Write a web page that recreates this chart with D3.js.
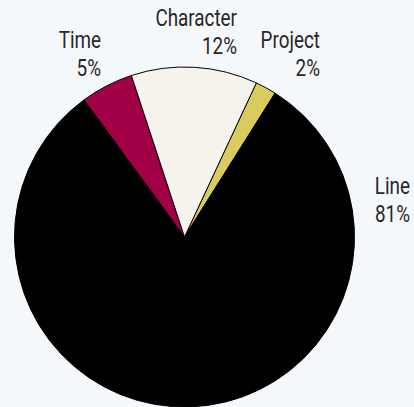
<!DOCTYPE html>
<html>
<head>
<meta charset="utf-8">
<script src="https://cdn.jsdelivr.net/npm/d3@7"></script>
<style>
  body { margin: 0; background: #f4f8fb; }
  svg { display: block; }
  .lbl { font-family: "Liberation Sans Narrow", "Roboto", sans-serif; font-size: 23px; font-weight: 400; fill: #2a2627; }
</style>
</head>
<body>
<div id="chart"></div>
<script>
// data, clockwise order
var categories = ["Project", "Line", "Time", "Character"];
var shares = [2, 81, 5, 12];
var colors = ["#d9cb5e", "#000000", "#a10046", "#f6f3ec"];

var width = 414,
    height = 407;

var cx = 184.5, cy = 237, radius = 170;

// label anchor spots (right-aligned text, first line baseline)
var labelSpot = {
  "Project":   [320, 48],
  "Line":      [410, 194],
  "Time":      [101, 48],
  "Character": [237, 26]
};

var svg = d3.select("#chart")
    .append("svg")
    .attr("width", width)
    .attr("height", height);

svg.append("rect")
    .attr("width", width)
    .attr("height", height)
    .attr("fill", "#f4f8fb");

var pie = d3.pie()
    .sort(null)
    .value(function(d) { return d; })
    .startAngle(25 * Math.PI / 180)
    .endAngle(25 * Math.PI / 180 + 2 * Math.PI);

var arc = d3.arc()
    .innerRadius(0)
    .outerRadius(radius);

var g = svg.append("g")
    .attr("transform", "translate(" + cx + "," + cy + ")");

g.selectAll("path")
    .data(pie(shares))
    .enter()
    .append("path")
    .attr("d", arc)
    .attr("fill", function(d, i) { return colors[i]; })
    .attr("stroke", "#000")
    .attr("stroke-width", 1);

// labels (narrowed, the original face is condensed)
var labels = svg.selectAll(".lbl")
    .data(categories)
    .enter()
    .append("text")
    .attr("class", "lbl")
    .attr("text-anchor", "end")
    .attr("transform", function(d) {
      return "translate(" + labelSpot[d][0] + "," + labelSpot[d][1] + ") scale(0.82,1)";
    });

labels.append("tspan")
    .attr("x", 0)
    .attr("y", 0)
    .text(function(d) { return d; });

labels.append("tspan")
    .attr("x", 0)
    .attr("y", 28)
    .text(function(d, i) { return shares[i] + "%"; });
</script>
</body>
</html>
